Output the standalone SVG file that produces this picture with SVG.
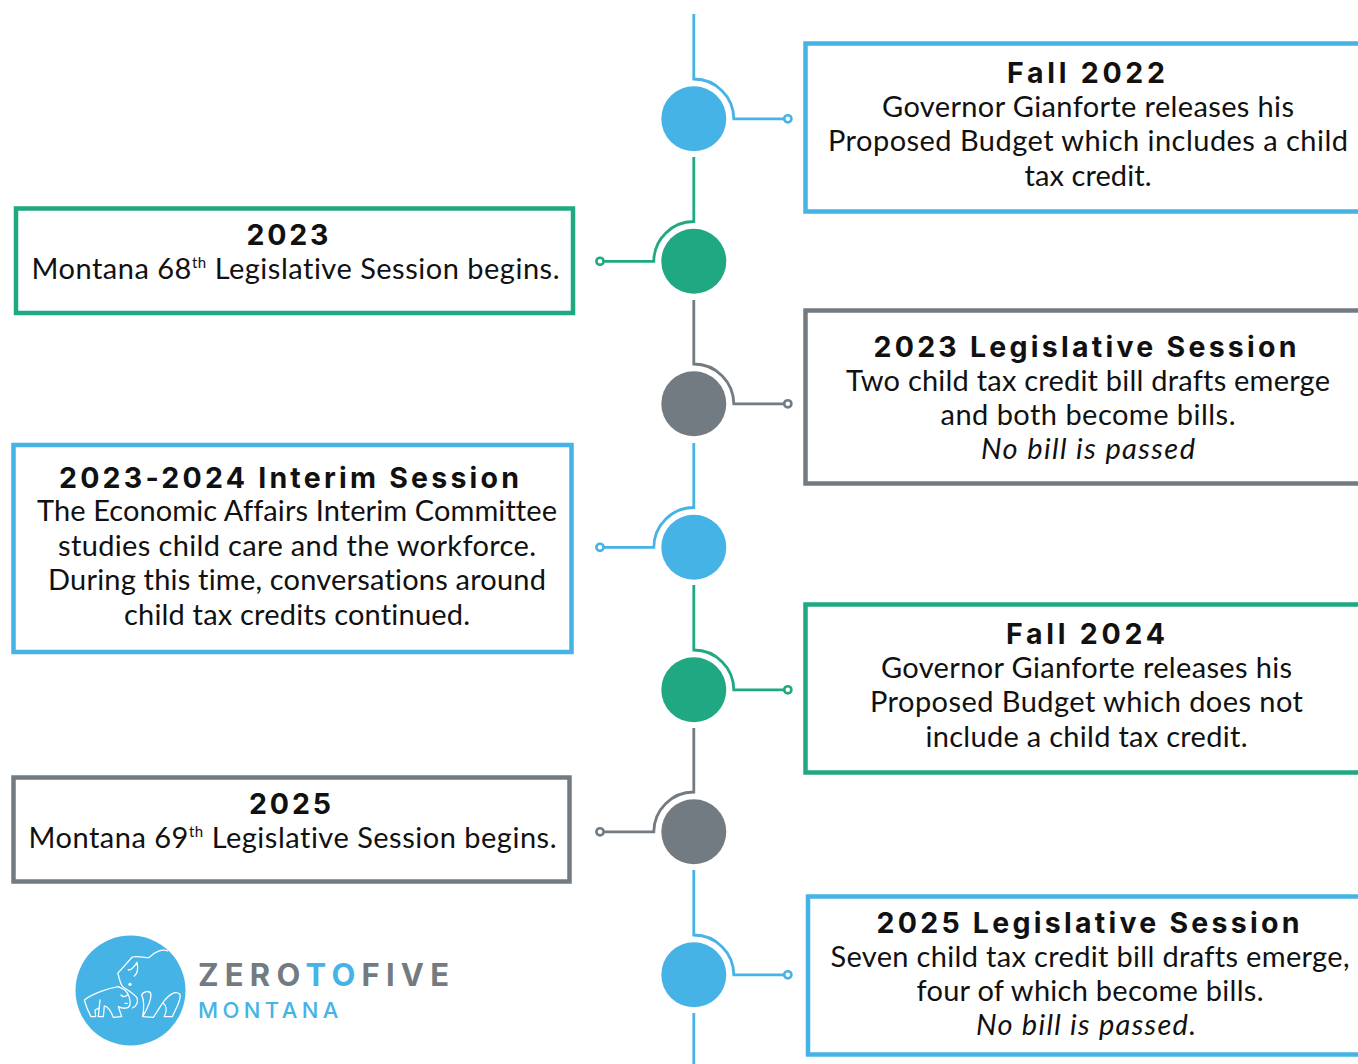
<svg xmlns="http://www.w3.org/2000/svg" width="1358" height="1064" viewBox="0 0 1358 1064">
<style>
text{font-family:"Lato","Open Sans","Liberation Sans",sans-serif;fill:#111;text-anchor:middle;font-variant-ligatures:none}
.t{font-size:28.500px;font-weight:700;letter-spacing:3px;font-family:"Inter","Liberation Sans",sans-serif}
.b{font-size:29px}
.i{font-style:italic}
.sup{font-size:15px}
.box{fill:#fff;stroke-width:4.500}
.w{fill:none;stroke-width:2.800}
.ring{fill:#fff;stroke-width:2.600}
.blue{stroke:#45B3E5}.green{stroke:#1FA881}.gray{stroke:#737B82}
.fb{fill:#45B3E5}.fg{fill:#1FA881}.fy{fill:#737B82}
.logo{fill:none;stroke:#fff;stroke-width:3.800;stroke-linejoin:round;stroke-linecap:round}
.lz{font-family:"Inter","Liberation Sans",sans-serif;font-size:31px;font-weight:700;text-anchor:start;fill:#737B82}
.lm{font-family:"Inter","Liberation Sans",sans-serif;font-size:22px;font-weight:500;text-anchor:start;fill:#45B3E5}
</style>
<g id="connectors">
<path class="w blue" d="M693.800 14V79A40 40 0 0 1 733.800 118.800H784"/><circle class="ring blue" cx="787.800" cy="118.800" r="3.600"/>
<path class="w green" d="M693.800 157V221.500A40 40 0 0 0 653.800 261.300H603"/><circle class="ring green" cx="600" cy="261.300" r="3.600"/>
<path class="w gray" d="M693.800 300V364A40 40 0 0 1 733.800 403.800H784"/><circle class="ring gray" cx="787.800" cy="403.800" r="3.600"/>
<path class="w blue" d="M693.800 443V507.500A40 40 0 0 0 653.800 547.300H603"/><circle class="ring blue" cx="600" cy="547.300" r="3.600"/>
<path class="w green" d="M693.800 585V650A40 40 0 0 1 733.800 689.800H784"/><circle class="ring green" cx="787.800" cy="689.800" r="3.600"/>
<path class="w gray" d="M693.800 728V792A40 40 0 0 0 653.800 831.800H603"/><circle class="ring gray" cx="600" cy="831.800" r="3.600"/>
<path class="w blue" d="M693.800 870V935A40 40 0 0 1 733.800 974.800H784"/><circle class="ring blue" cx="787.800" cy="974.800" r="3.600"/>
<path class="w blue" d="M693.800 1013V1064"/>
</g>
<g id="dot1"><circle class="fb" cx="693.800" cy="118.800" r="32.500"/></g>
<g id="dot2"><circle class="fg" cx="693.800" cy="261.300" r="32.500"/></g>
<g id="dot3"><circle class="fy" cx="693.800" cy="403.800" r="32.500"/></g>
<g id="dot4"><circle class="fb" cx="693.800" cy="547.300" r="32.500"/></g>
<g id="dot5"><circle class="fg" cx="693.800" cy="689.800" r="32.500"/></g>
<g id="dot6"><circle class="fy" cx="693.800" cy="831.800" r="32.500"/></g>
<g id="dot7"><circle class="fb" cx="693.800" cy="974.800" r="32.500"/></g>
<g id="fall2022"><rect class="box blue" x="805.500" y="43.500" width="570" height="168"/>
<text class="t" x="1087.500" y="82.500" textLength="161">Fall 2022</text>
<text class="b" x="1088" y="116.500" textLength="412">Governor Gianforte releases his</text>
<text class="b" x="1088" y="151" textLength="520">Proposed Budget which includes a child</text>
<text class="b" x="1088" y="185.500" textLength="127">tax credit.</text></g>
<g id="y2023"><rect class="box green" x="16" y="208.500" width="557" height="104.500"/>
<text class="t" x="289" y="244.500" textLength="85">2023</text>
<text class="b" x="295.500" y="279" textLength="528"><tspan>Montana 68</tspan><tspan class="sup" dy="-11">th</tspan><tspan dy="11"> Legislative Session begins.</tspan></text></g>
<g id="session2023"><rect class="box gray" x="805.500" y="310.500" width="570" height="173"/>
<text class="t" x="1086.500" y="356.500" textLength="426">2023 Legislative Session</text>
<text class="b" x="1088" y="390.500" textLength="484">Two child tax credit bill drafts emerge</text>
<text class="b" x="1088" y="424.500" textLength="295">and both become bills.</text>
<text class="b i" x="1088" y="459" textLength="214">No bill is passed</text></g>
<g id="interim"><rect class="box blue" x="13.500" y="445" width="558" height="207"/>
<text class="t" x="290.500" y="487.500" textLength="463">2023-2024 Interim Session</text>
<text class="b" x="297" y="521" textLength="520">The Economic Affairs Interim Committee</text>
<text class="b" x="297" y="555.500" textLength="478">studies child care and the workforce.</text>
<text class="b" x="297" y="590" textLength="498">During this time, conversations around</text>
<text class="b" x="297" y="624.500" textLength="346">child tax credits continued.</text></g>
<g id="fall2024"><rect class="box green" x="805.500" y="604.500" width="570" height="168"/>
<text class="t" x="1087" y="643.500" textLength="162">Fall 2024</text>
<text class="b" x="1086.500" y="677.500" textLength="411">Governor Gianforte releases his</text>
<text class="b" x="1086.500" y="712" textLength="433">Proposed Budget which does not</text>
<text class="b" x="1086.500" y="746.500" textLength="322">include a child tax credit.</text></g>
<g id="y2025"><rect class="box gray" x="13.500" y="777.500" width="556" height="104"/>
<text class="t" x="291.500" y="813.500" textLength="85">2025</text>
<text class="b" x="292.500" y="847.500" textLength="528"><tspan>Montana 69</tspan><tspan class="sup" dy="-11">th</tspan><tspan dy="11"> Legislative Session begins.</tspan></text></g>
<g id="session2025"><rect class="box blue" x="808" y="896.500" width="570" height="158"/>
<text class="t" x="1089.500" y="932.500" textLength="426">2025 Legislative Session</text>
<text class="b" x="1090" y="966.500" textLength="519">Seven child tax credit bill drafts emerge,</text>
<text class="b" x="1090" y="1000.500" textLength="347">four of which become bills.</text>
<text class="b i" x="1086" y="1035" textLength="220">No bill is passed.</text></g>
<g id="logo">
<circle class="fb" cx="130.500" cy="990.500" r="55"/>
<g transform="translate(75 935) scale(.3333)">
<path class="logo" d="M278 48C262 42 240 48 222 68C205 68 190 62 172 66L128 115C133 125 134 145 143 155C158 165 175 175 186 188C190 200 185 215 172 219M160 105C170 105 180 92 186 82C190 100 188 115 178 123M203 245C208 215 205 190 200 180C205 168 225 165 228 178C228 195 215 225 203 245L235 247L262 205C280 180 300 165 315 178C320 195 300 225 292 245H268C275 230 278 215 265 205"/>
<circle cx="165" cy="148" r="5" fill="#fff"/>
<path class="logo" d="M28 195C55 175 100 160 130 155L150 165C160 175 168 195 165 210C160 222 145 222 130 215L140 245L115 247C110 235 100 215 88 213L85 245L70 245L75 195M28 195C32 210 40 230 48 245H62L60 225L70 220M138 180C145 188 152 185 158 180M150 205H157"/>
</g>
<text class="lz" x="198" y="986" style="letter-spacing:7px" textLength="258">ZERO<tspan style="fill:#45B3E5">TO</tspan>FIVE</text>
<text class="lm" x="198" y="1018" style="letter-spacing:4.600px" textLength="145">MONTANA</text>
</g>
</svg>
